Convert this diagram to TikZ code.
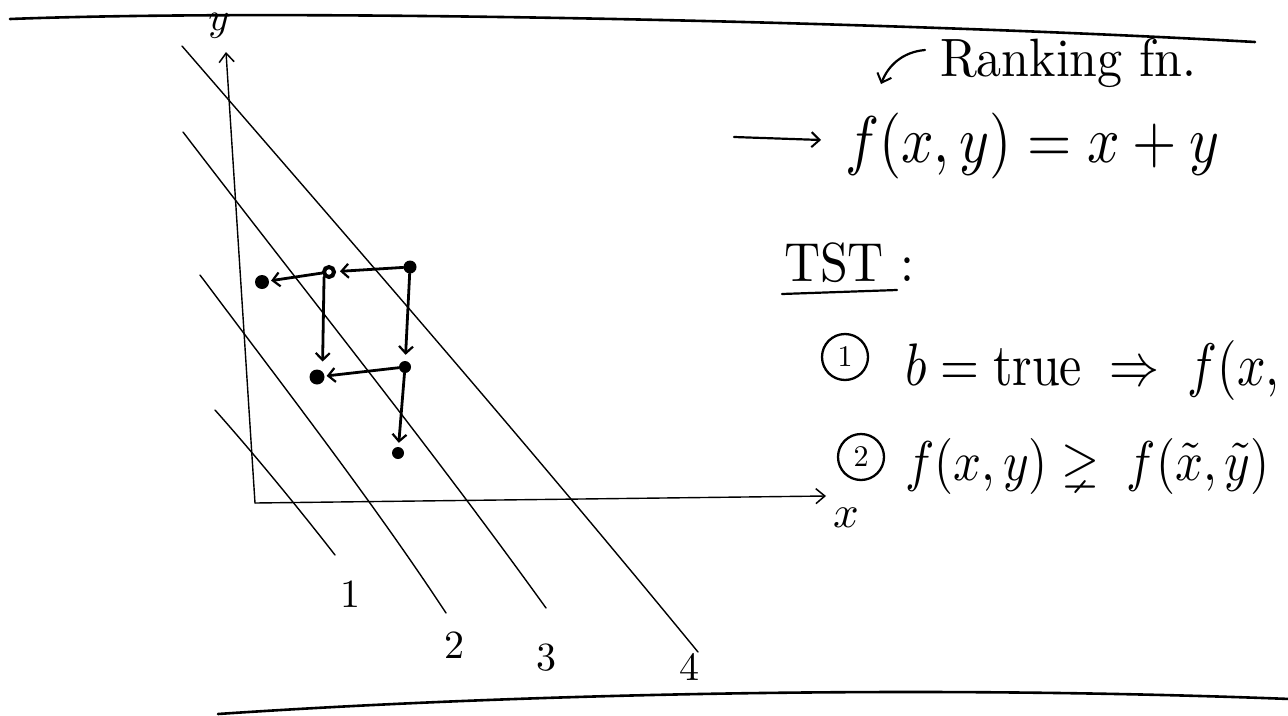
\documentclass[tikz,border=0pt]{standalone}
\usepackage{amssymb}
\usepackage{graphicx}
\usetikzlibrary{arrows.meta}
\begin{document}
\begin{tikzpicture}[x=1pt,y=-1pt,
  frame/.style={line width=2.6pt, line cap=round},
  guide/.style={line width=1.4pt, line cap=round},
  axis/.style={line width=1.4pt, line cap=round, -{Straight Barb[length=9pt,width=15pt,line width=1.5pt]}},
  dot/.style={circle, fill=black, inner sep=0pt, minimum size=13pt},
  ring/.style={circle, draw=black, fill=white, line width=4pt, inner sep=0pt, minimum size=10pt},
  move/.style={line width=2.8pt, line cap=round, -{Straight Barb[length=7pt,width=14pt,line width=2.2pt]}},
  pen/.style={line width=2.2pt, line cap=round},
  penarrow/.style={line width=2.2pt, line cap=round, -{Straight Barb[length=8pt,width=15pt,line width=2pt]}},
  txt/.style={inner sep=0pt, outer sep=0pt},
  circnum/.style={circle, draw=black, line width=2.3pt, minimum size=46pt, inner sep=0pt}
]
\useasboundingbox (0,0) rectangle (1288,715);
\clip (0,0) rectangle (1288,715);

% frame lines
\coordinate (topL) at (10,19);
\coordinate (topR) at (1255,42);
\coordinate (botL) at (218,714);
\coordinate (botR) at (1290,699);
\draw[frame] (topL) .. controls (300,8) and (900,22) .. (topR);
\draw[frame] (botL) .. controls (500,695) and (900,684) .. (botR);

% axes
\coordinate (O) at (255,503);
\coordinate (ytop) at (226,52);
\coordinate (xend) at (826,496);
\draw[axis] (O) -- (ytop);
\draw[axis] (O) -- (xend);
\node[txt, scale=4] (ylab) at (219,26) {$y$};
\node[txt, scale=4.5] (xlab) at (846,518) {$x$};

% level lines
\coordinate (l1a) at (215,410); \coordinate (l1b) at (335,555);
\coordinate (l2a) at (200,275); \coordinate (l2b) at (446,613);
\coordinate (l3a) at (183,132); \coordinate (l3b) at (546,608);
\coordinate (l4a) at (182,46);  \coordinate (l4b) at (698,652);
\draw[guide] (l1a) .. controls (255,455) and (300,510) .. (l1b);
\draw[guide] (l2a) .. controls (290,395) and (375,505) .. (l2b);
\draw[guide] (l3a) .. controls (300,285) and (425,440) .. (l3b);
\draw[guide] (l4a) .. controls (350,240) and (520,435) .. (l4b);
\node[txt, scale=4] (n1) at (350,594) {1};
\node[txt, scale=4] (n2) at (454,645) {2};
\node[txt, scale=4] (n3) at (546,658) {3};
\node[txt, scale=4] (n4) at (689,667) {4};

% states
\node[dot, minimum size=14pt] (A) at (262,282) {};
\node[ring] (B) at (329,272) {};
\node[dot] (C) at (410,267) {};
\node[dot, minimum size=15pt] (D) at (317,377) {};
\node[dot, minimum size=12pt] (E) at (405,367) {};
\node[dot, minimum size=12pt] (F) at (398,453) {};

\draw[move, shorten >=4pt] (C) -- (B);
\draw[move, shorten >=2pt] (B) -- (A);
\draw[move, shorten >=10pt] (B.south west) -- (D.north east);
\draw[move, shorten >=6pt] (C) -- (E);
\draw[move, shorten >=2pt] (E) -- (D);
\draw[move, shorten >=4pt] (E) -- (F);

% right side text
\node[txt, xscale=5, yscale=5.4, anchor=base west] (rank) at (940,76) {Ranking fn.};
\node[txt, xscale=5.7, yscale=6.6, anchor=base west] (fx) at (845,162) {$f(x,y)=x+y$};
\coordinate (rtail) at (925,50);
\coordinate (rhead) at (881,84);
\draw[penarrow] (rtail) .. controls (902,52) and (888,66) .. (rhead);
\coordinate (atail) at (734,137);
\coordinate (ahead) at (821,140);
\draw[penarrow] (atail) -- (ahead);

\node[txt, xscale=5, yscale=5.5, anchor=base west] (tst) at (784,281) {TST :};
\coordinate (ulA) at (782,294);
\coordinate (ulB) at (897,290);
\draw[pen] (ulA) -- (ulB);

\node[circnum] (c1) at (845,357) {\scalebox{3}{1}};
\node[txt, xscale=5, yscale=6, anchor=base west] (r1) at (905,385) {$b=\mathrm{true}\;\Rightarrow\; f(x,$};
\node[circnum] (c2) at (861,457) {\scalebox{3}{2}};
\node[txt, xscale=4.9, yscale=5.6, anchor=base west] (r2) at (905,480) {$f(x,y)\gneq\; f(\tilde{x},\tilde{y})$};
\end{tikzpicture}
\end{document}
